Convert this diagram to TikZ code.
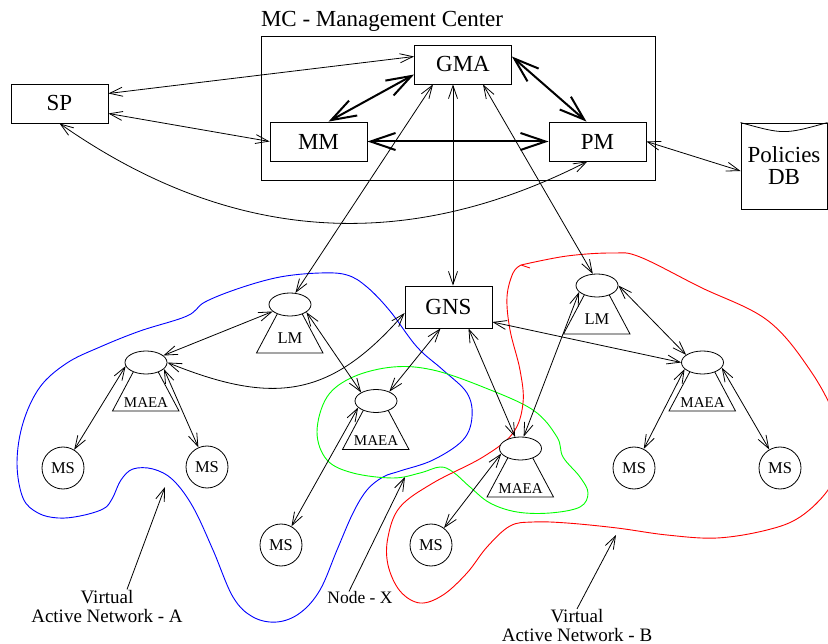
\documentclass[tikz,border=0pt]{standalone}
\usepackage{fontspec}
\setmainfont{Liberation Serif}
\usetikzlibrary{arrows.meta,shapes.geometric,positioning}

\tikzset{
  box/.style={draw, rectangle, minimum width=97pt, minimum height=39pt,
    inner sep=0pt, font=\fontsize{23}{23}\selectfont},
  agent/.style={draw, ellipse, fill=white, minimum width=42pt,
    minimum height=23pt, inner sep=0pt},
  agentlbl/.style={anchor=base, inner sep=0pt, font=\fontsize{16.5}{16.5}\selectfont},
  maealbl/.style={agentlbl, font=\fontsize{15}{15}\selectfont},
  station/.style={draw, circle, minimum size=42pt, inner sep=0pt,
    font=\fontsize{16.5}{16.5}\selectfont},
  note/.style={align=center, inner sep=0pt, font=\fontsize{19}{19}\selectfont},
  biglink/.style={{Straight Barb[length=25pt,width=17pt]}-{Straight Barb[length=25pt,width=17pt]},
    line width=2pt},
}

% agent: trapezoid body with an ellipse head
\newcommand{\agentnode}[5][agentlbl]{%
  \draw (#3) ++(-12.5,9) -- ++(-21,39.5) -- ++(66.5,0) -- ++(-21,-39.5);
  \node[agent] (#2) at (#3) {};
  \node[#1] (#2-lbl) at ([yshift=-#5pt]#2.center) {#4};
}

\begin{document}
\begin{tikzpicture}[x=1pt, y=-1pt, line width=0.8pt,
    >={Straight Barb[length=13pt,width=9pt]}]
    \useasboundingbox (0,0) rectangle (828,644);

    % VIRTUAL NETWORKS
    \draw[blue, line width=0.9pt] plot[smooth cycle, tension=0.6] coordinates {
      (205,302) (240,288) (280,277) (320,273) (347,275) (367,287) (390,311)
      (417,347) (443,370) (467,393) (472,417) (463,440) (433,460) (400,471)
      (383,477) (367,490) (353,513) (337,550) (320,590) (300,613) (277,622)
      (253,617) (233,597) (213,550) (193,507) (173,480) (153,469) (133,469)
      (121,480) (112,499) (103,509) (80,516) (58,518) (38,513) (23,498)
      (17,463) (23,423) (40,387) (67,363) (100,347) (140,331) (187,316)};
    \draw[green, line width=0.9pt] plot[smooth cycle, tension=0.6] coordinates {
      (317,432) (327,397) (353,377) (393,367) (433,370) (483,387) (533,410)
      (557,437) (563,457) (580,477) (588,493) (580,507) (550,513) (517,512)
      (490,503) (470,487) (453,472) (440,467) (420,473) (393,478) (353,473)
      (327,460)};
    \draw[red, line width=0.9pt] plot[smooth, tension=0.6] coordinates {
      (521,265) (567,256) (613,253) (640,257) (700,287) (767,320) (810,370)
      (836,420) (840,460) (828,490) (800,517) (767,530) (717,538) (667,535)
      (617,528) (567,523) (533,522) (510,526) (487,547) (467,573) (443,595)
      (420,603) (400,591) (388,565) (388,537) (400,507) (433,483) (483,457)
      (513,433) (523,403) (520,370) (510,330) (507,297) (513,273) (521,265)}
      -- (530,268);

    % MANAGEMENT CENTER
    \node[box] (GMA) at (463,64.5) {GMA};
    \node[box,
      node distance=77pt,
    below of=GMA, xshift=-144.5pt] (MM) {MM};
    \node[box,
      node distance=77pt,
    below of=GMA, xshift=134.5pt] (PM) {PM};
    \node[draw, minimum width=394pt, minimum height=144pt, inner sep=0pt] (MC) at (458,108) {};
    \node[anchor=base west, inner sep=0pt, font=\fontsize{23}{23}\selectfont] (MC-lbl)
      at ([yshift=9pt]MC.north west) {MC - Management Center};
    \node[box] (SP) at (59.5,103.5) {SP};
    \node[draw, minimum width=86pt, minimum height=86pt, inner sep=0pt, align=center,
      font=\fontsize{23}{22}\selectfont] (DB) at (784,166) {Policies\\DB};
    \draw (DB.north west) .. controls ([yshift=-12pt]DB.north) .. (DB.north east);
    \node[box, minimum width=87pt, minimum height=42pt] (GNS) at (448.5,307) {GNS};

    % AGENTS
    \agentnode{LMa}{290,304.5}{LM}{39.5}
    \agentnode[maealbl]{MAEAa}{146,362.5}{MAEA}{45.5}
    \agentnode[maealbl]{MAEAx}{376,401}{MAEA}{45}
    \agentnode{LMb}{597,285.5}{LM}{39}
    \agentnode[maealbl]{MAEAb}{702.5,362.5}{MAEA}{45.5}
    \agentnode[maealbl]{MAEAc}{520.5,448.5}{MAEA}{45}

    % STATIONS
    \node[station] (MSa1) at (63,468) {MS};
    \node[station] (MSa2) at (207,467) {MS};
    \node[station] (MSx) at (281,545) {MS};
    \node[station] (MSc) at (431,545) {MS};
    \node[station] (MSb1) at (634,468) {MS};
    \node[station] (MSb2) at (780,468) {MS};

    % LABELS
    \node[note] (VANa-lbl) at (107,606) {Virtual\\Active Network - A};
    \node[note, font=\fontsize{17.5}{17.5}\selectfont] (NodeX-lbl) at (360,598) {Node - X};
    \node[note] (VANb-lbl) at (577,625.5) {Virtual\\Active Network - B};
    \coordinate (VANa) at (165,487);
    \coordinate (NodeX) at (405,477);
    \coordinate (VANb) at (616,535);

    % LINES
    \begin{scope}[<->]
      \path
      ([yshift=10pt]SP.east) edge ([yshift=8pt]GMA.west)
      ([yshift=-10pt]SP.east) edge (MM.west)
      (SP.south) edge[out=-35, in=207] ([xshift=-10pt]PM.south)
      (PM.east) edge ([yshift=-5pt]DB.west)
      ([xshift=-30pt]GMA.south) edge (LMa.65)
      ([xshift=-10pt]GMA.south) edge ([xshift=-10pt]GMA.south |- GNS.north)
      ([xshift=20pt]GMA.south) edge (LMb.110)
      (LMa) edge (MAEAa)
      (LMa.-25) edge (MAEAx.150)
      ([yshift=-6pt]GNS.west) edge[out=229, in=338, looseness=1.2] (MAEAa.east)
      ([xshift=-8pt]GNS.south) edge (MAEAx.35)
      ([xshift=20pt]GNS.south) edge (MAEAc.115)
      ([yshift=-15pt]GNS.east) edge (MAEAb.west)
      (LMb.200) edge (MAEAc.75)
      (LMb.east) edge (MAEAb.155)
      (MAEAa.190) edge (MSa1)
      (MAEAa.-20) edge (MSa2)
      (MAEAx.200) edge (MSx)
      (MAEAc.195) edge (MSc)
      (MAEAb.200) edge (MSb1)
      (MAEAb.-15) edge (MSb2)
      ;
      \path
      ([xshift=10pt]MM.north) edge[biglink] ([yshift=-10pt]GMA.west)
      ([yshift=8pt]GMA.east) edge[biglink] ([xshift=-11pt]PM.north)
      (MM.east) edge[biglink] (PM.west)
      ;
    \end{scope}
    \path[->]
    ([xshift=20pt]VANa-lbl.north) edge (VANa)
    ([xshift=-11pt]NodeX-lbl.north) edge (NodeX)
    (VANb-lbl.north) edge (VANb)
    ;
\end{tikzpicture}
\end{document}
